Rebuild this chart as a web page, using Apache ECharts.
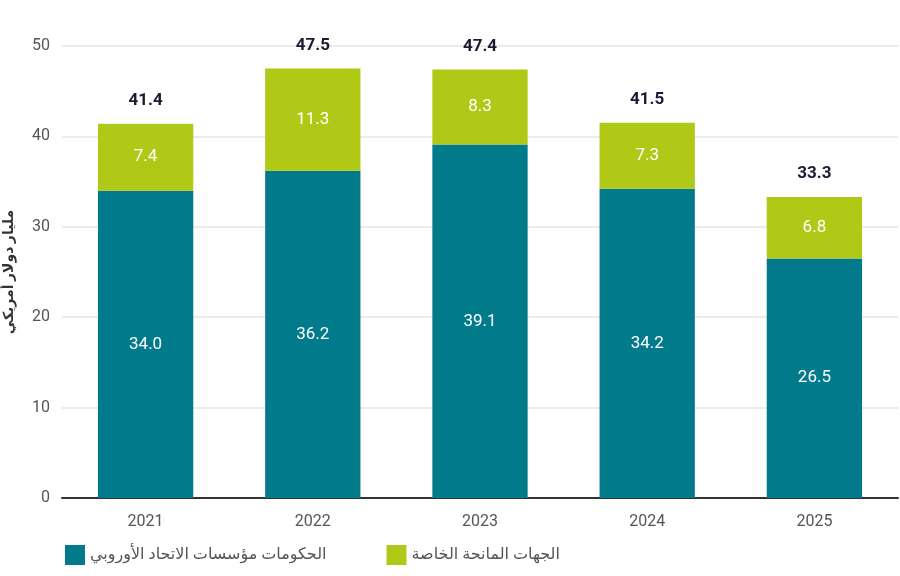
<!DOCTYPE html>
<html>
<head>
<meta charset="utf-8">
<script src="https://cdn.jsdelivr.net/npm/echarts@6/dist/echarts.min.js"></script>
<style>
  html, body { margin: 0; padding: 0; background: #fff; }
  #chart { width: 900px; height: 576px; }
</style>
</head>
<body>
<div id="chart"></div>
<script>
const years = ["2021", "2022", "2023", "2024", "2025"];
const govValues = [34.0, 36.2, 39.1, 34.2, 26.5];
const privateValues = [7.4, 11.3, 8.3, 7.3, 6.8];
const totals = [41.4, 47.5, 47.4, 41.5, 33.3];

const govName = "الحكومات مؤسسات الاتحاد الأوروبي";
const privateName = "الجهات المانحة الخاصة";

const font = 'Roboto, "DejaVu Sans", sans-serif';

const chart = echarts.init(document.getElementById("chart"), null, { renderer: "canvas" });

chart.setOption({
  animation: false,
  backgroundColor: "#ffffff",
  textStyle: { fontFamily: font },
  grid: { left: 62, right: 2, top: 46, bottom: 78, outerBoundsMode: "none" },
  legend: {
    left: 60,
    bottom: 6,
    itemWidth: 20,
    itemHeight: 20,
    itemGap: 60,
    icon: "rect",
    textStyle: { fontSize: 16, color: "#555", fontFamily: font },
    data: [govName, privateName]
  },
  xAxis: {
    type: "category",
    data: years,
    axisLine: { lineStyle: { color: "#333", width: 2 } },
    axisTick: { show: false },
    axisLabel: { fontSize: 16, color: "#555", margin: 16 }
  },
  yAxis: {
    type: "value",
    min: 0,
    max: 50,
    interval: 10,
    name: "مليار دولار أمريكي",
    nameLocation: "middle",
    nameRotate: 90,
    nameGap: 46,
    nameTextStyle: { fontSize: 14, fontWeight: "bold", color: "#333" },
    axisLine: { show: false },
    axisTick: { show: false },
    axisLabel: { fontSize: 16, color: "#555", margin: 12 },
    splitLine: { lineStyle: { color: "#e6e6e6", width: 1.5 } }
  },
  series: [
    {
      name: govName,
      type: "bar",
      stack: "total",
      barWidth: "57%",
      data: govValues,
      itemStyle: { color: "#017B8C" },
      label: {
        show: true,
        position: "inside",
        color: "#fff",
        fontSize: 17,
        formatter: (p) => p.value.toFixed(1)
      }
    },
    {
      name: privateName,
      type: "bar",
      stack: "total",
      barWidth: "57%",
      data: privateValues,
      itemStyle: { color: "#B0C917" },
      label: {
        show: true,
        position: "inside",
        color: "#fff",
        fontSize: 17,
        formatter: (p) => p.value.toFixed(1)
      }
    },
    {
      name: "total",
      type: "line",
      data: totals,
      symbol: "circle",
      symbolSize: 1,
      showSymbol: true,
      itemStyle: { color: "rgba(0,0,0,0)" },
      lineStyle: { opacity: 0 },
      silent: true,
      z: 10,
      label: {
        show: true,
        position: "top",
        distance: 14,
        color: "#1a1a33",
        fontSize: 17,
        fontWeight: "bold",
        formatter: (p) => p.value.toFixed(1)
      }
    }
  ]
});
</script>
</body>
</html>
